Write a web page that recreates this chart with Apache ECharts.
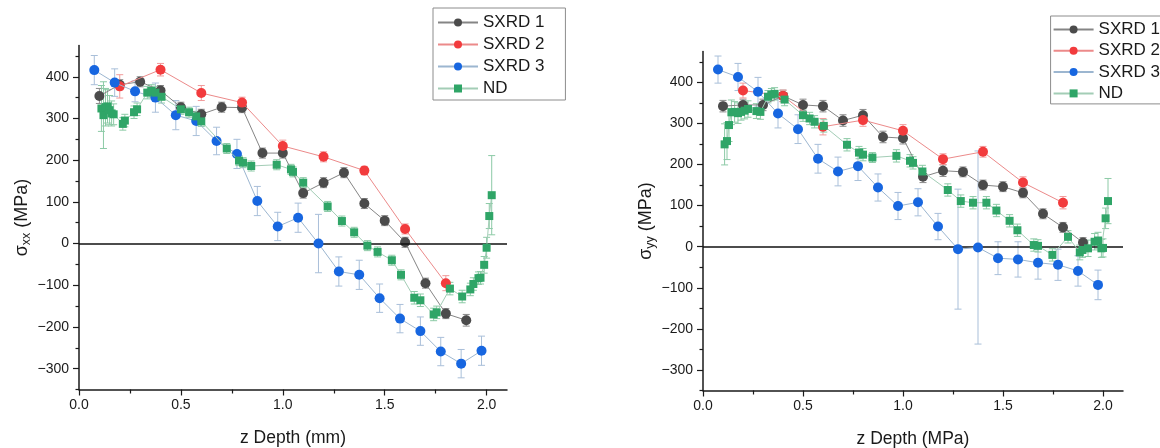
<!DOCTYPE html>
<html><head><meta charset="utf-8">
<script src="https://cdn.jsdelivr.net/npm/echarts@6/dist/echarts.min.js"></script>
<style>html,body{margin:0;padding:0;background:#fff}#c{width:1160px;height:448px}</style>
</head><body><div id="c"></div>
<script>
// ---------- DATA ----------
const seriesNames = ['SXRD 1', 'SXRD 2', 'SXRD 3', 'ND'];

// Left panel: sigma_xx
const sxxS1x = [0.1,0.2,0.3,0.4,0.5,0.6,0.7,0.8,0.9,1.0,1.1,1.2,1.3,1.4,1.5,1.6,1.7,1.8,1.9];
const sxxS1y = [354,381,388,367,327,310,327,326,217,217,121,146,170,96,55,3,-95,-168,-184];
const sxxS1e = [18,12,12,12,12,12,12,12,12,12,12,12,12,12,12,12,12,12,14];

const sxxS2x = [0.2,0.4,0.6,0.8,1.0,1.2,1.4,1.6,1.8];
const sxxS2y = [377,417,361,338,234,208,175,35,-95];
const sxxS2e = [28,15,18,13,14,12,10,12,18];

const sxxS3x = [0.075,0.175,0.275,0.375,0.475,0.575,0.675,0.775,0.875,0.975,1.075,1.175,1.275,1.375,1.475,1.575,1.675,1.775,1.875,1.975];
const sxxS3y = [416,386,365,350,308,294,246,215,102,41,62,0,-67,-75,-131,-180,-210,-259,-288,-257];
const sxxS3e = [35,33,25,35,35,35,33,35,35,34,35,70,35,35,34,34,34,34,34,35];

const sxxNDx = [0.11,0.12,0.13,0.14,0.15,0.16,0.17,0.215,0.225,0.27,0.285,0.335,0.355,0.375,0.405,0.50,0.54,0.575,0.60,0.725,0.785,0.805,0.845,0.97,1.04,1.05,1.10,1.22,1.29,1.35,1.415,1.465,1.535,1.58,1.645,1.675,1.74,1.755,1.82,1.88,1.92,1.935,1.96,1.97,1.988,2.0,2.013,2.025];
const sxxNDy = [324,308,327,329,320,312,310,287,295,315,322,362,366,362,352,322,315,305,293,228,199,194,186,189,178,172,146,89,54,27,-5,-20,-40,-75,-130,-136,-170,-165,-108,-127,-110,-97,-83,-82,-51,-10,66,116];
const sxxNDe = [55,80,45,40,35,30,25,15,15,15,15,15,15,15,15,12,12,12,12,12,12,12,12,12,12,12,12,12,12,12,12,12,12,12,15,15,15,15,15,15,15,15,15,15,20,25,30,95];

// Right panel: sigma_yy
const syyS1x = [0.1,0.2,0.3,0.4,0.5,0.6,0.7,0.8,0.9,1.0,1.1,1.2,1.3,1.4,1.5,1.6,1.7,1.8,1.9];
const syyS1y = [342,345,345,367,345,342,307,320,267,264,170,185,182,150,146,131,80,47,10];
const syyS1e = [14,14,14,14,14,14,14,14,14,14,14,14,12,12,12,12,12,12,12];

const syyS2x = [0.2,0.4,0.6,0.8,1.0,1.2,1.4,1.6,1.8];
const syyS2y = [380,367,292,308,282,213,231,156,107];
const syyS2e = [18,14,20,15,15,13,13,14,15];

const syyS3x = [0.075,0.175,0.275,0.375,0.475,0.575,0.675,0.775,0.875,0.975,1.075,1.175,1.275,1.375,1.475,1.575,1.675,1.775,1.875,1.975];
const syyS3y = [431,413,377,324,286,214,183,196,144,99,108,49,-6,-2,-28,-31,-39,-44,-59,-93];
const syyS3e = [33,33,35,35,35,35,35,35,33,33,33,32,146,235,40,43,40,38,37,36];

const syyNDx = [0.108,0.12,0.13,0.142,0.158,0.175,0.19,0.208,0.225,0.267,0.287,0.325,0.342,0.358,0.408,0.50,0.533,0.558,0.604,0.72,0.78,0.80,0.847,0.967,1.035,1.05,1.097,1.224,1.289,1.35,1.417,1.467,1.533,1.572,1.654,1.675,1.747,1.825,1.884,1.897,1.925,1.958,1.975,1.992,2.0,2.013,2.025];
const syyNDy = [249,257,296,327,328,325,328,331,335,330,328,365,370,372,358,320,312,304,294,248,229,224,217,221,209,204,183,138,111,107,107,88,63,40,4,2,-20,24,-14,-8,-4,12,15,-4,-3,69,111];
const syyNDe = [50,45,40,30,25,25,20,20,20,18,18,15,15,15,15,15,15,15,15,15,15,15,12,15,15,15,15,15,15,15,15,15,15,15,15,15,15,15,18,18,20,20,20,22,22,25,55];

// Tick labels
const xMajorTicks = [0, 0.5, 1.0, 1.5, 2.0];
const xMinorTicks = [0.25, 0.75, 1.25, 1.75];
const yMajorTicks = [-300, -200, -100, 0, 100, 200, 300, 400];
const yMinorTicks = [-350, -250, -150, -50, 50, 150, 250, 350, 450];
const xLabelLeft = 'z Depth (mm)';
const xLabelRight = 'z Depth (MPa)';

// ---------- STYLE ----------
const FONT = 'Liberation Sans, Arial, sans-serif';
const TXT = '#1a1a1a';
const sty = {
  'SXRD 1': {mk:'#4b4b4b', ln:'#858585', eb:'#8a8a8a', sym:'circle', size:10},
  'SXRD 2': {mk:'#f23b3d', ln:'#ec8a8a', eb:'#f19a9a', sym:'circle', size:10},
  'SXRD 3': {mk:'#1766e0', ln:'#9cb6d0', eb:'#a9bfd9', sym:'circle', size:10},
  'ND':     {mk:'#2fa567', ln:'#a3cdb6', eb:'#8ccaa6', sym:'rect',   size:8}
};
const G = [
  {left:79, top:45.5, width:428, height:344},
  {left:703, top:51.5, width:420, height:339}
];

function zip(xs, ys){ return xs.map((x,i)=>[x, ys[i]]); }
function zip3(xs, ys, es){ return xs.map((x,i)=>[x, ys[i], es[i] != null ? es[i] : 15]); }

function errRender(color){
  return function(params, api){
    const x = api.value(0), y = api.value(1), e = api.value(2);
    const t = api.coord([x, y + e]), b = api.coord([x, y - e]);
    const hw = 3.5;
    const st = {stroke: color, lineWidth: 1};
    return {type:'group', children:[
      {type:'line', shape:{x1:t[0], y1:t[1], x2:b[0], y2:b[1]}, style:st},
      {type:'line', shape:{x1:t[0]-hw, y1:t[1], x2:t[0]+hw, y2:t[1]}, style:st},
      {type:'line', shape:{x1:b[0]-hw, y1:b[1], x2:b[0]+hw, y2:b[1]}, style:st}
    ]};
  };
}

const fmtY = v => (v < 0 ? '\u2212' + (-v) : String(v));
const fmtX = v => Number(v).toFixed(1);

function axesFor(gi, xName, yName){
  const g = G[gi];
  const xMajor = {
    gridIndex: gi, type:'value', position:'bottom', min:0, max:2.1,
    axisLine:{show:true, onZero:false, lineStyle:{color:TXT, width:1.5}},
    axisTick:{show:true, length:6, customValues:xMajorTicks, lineStyle:{color:TXT, width:1.2}},
    axisLabel:{show:true, customValues:xMajorTicks, formatter:fmtX, margin:9, fontSize:14, color:TXT, fontFamily:FONT},
    splitLine:{show:false},
    name:xName, nameLocation:'middle', nameGap:40,
    nameTextStyle:{fontSize:17.5, color:TXT, fontFamily:FONT}
  };
  const xMinor = {
    gridIndex: gi, type:'value', position:'top', offset:-g.height, min:0, max:2.1,
    axisLine:{show:false, onZero:false},
    axisTick:{show:true, inside:true, length:4, customValues:xMinorTicks, lineStyle:{color:TXT, width:1.2}},
    axisLabel:{show:false}, splitLine:{show:false}
  };
  const yMajor = {
    gridIndex: gi, type:'value', position:'left', min:-350, max:475,
    axisLine:{show:true, onZero:false, lineStyle:{color:TXT, width:1.5}},
    axisTick:{show:true, length:6, customValues:yMajorTicks, lineStyle:{color:TXT, width:1.2}},
    axisLabel:{show:true, customValues:yMajorTicks, formatter:fmtY, margin:10, fontSize:14, color:TXT, fontFamily:FONT},
    splitLine:{show:false},
    name:yName, nameLocation:'middle', nameGap:46, nameRotate:90,
    nameTextStyle:{fontSize:18, color:TXT, fontFamily:FONT,
      rich:{g:{fontSize:18, color:TXT, fontFamily:FONT},
            s:{fontSize:12.5, color:TXT, fontFamily:FONT, padding:[9,0,0,0]}}}
  };
  const yMinor = {
    gridIndex: gi, type:'value', position:'right', offset:-g.width, min:-350, max:475,
    axisLine:{show:false, onZero:false},
    axisTick:{show:true, inside:true, length:3.5, customValues:yMinorTicks, lineStyle:{color:TXT, width:1.2}},
    axisLabel:{show:false}, splitLine:{show:false}
  };
  return {x:[xMajor, xMinor], y:[yMajor, yMinor]};
}

const ax0 = axesFor(0, xLabelLeft, '{g|σ}{s|xx}{g| (MPa)}');
const ax1 = axesFor(1, xLabelRight, '{g|σ}{s|yy}{g| (MPa)}');

const panels = [
  {ax:0, data:{
    'SXRD 1':[sxxS1x, sxxS1y, sxxS1e], 'SXRD 2':[sxxS2x, sxxS2y, sxxS2e],
    'SXRD 3':[sxxS3x, sxxS3y, sxxS3e], 'ND':[sxxNDx, sxxNDy, sxxNDe]}},
  {ax:2, data:{
    'SXRD 1':[syyS1x, syyS1y, syyS1e], 'SXRD 2':[syyS2x, syyS2y, syyS2e],
    'SXRD 3':[syyS3x, syyS3y, syyS3e], 'ND':[syyNDx, syyNDy, syyNDe]}}
];

const series = [];
panels.forEach((p, pi) => {
  seriesNames.forEach(n => {
    const d = p.data[n];
    series.push({
      type:'custom', name:'err_' + n + '_' + pi, xAxisIndex:p.ax, yAxisIndex:p.ax,
      data: zip3(d[0], d[1], d[2]), renderItem: errRender(sty[n].eb),
      encode:{x:0, y:1}, z:1, silent:true, clip:false
    });
  });
  series.push({
    type:'line', name:'zero_' + pi, xAxisIndex:p.ax, yAxisIndex:p.ax, data:[], z:2,
    markLine:{silent:true, symbol:['none','none'], label:{show:false},
      lineStyle:{color:'#111', width:1.6, type:'solid'}, data:[{yAxis:0}], animation:false}
  });
  seriesNames.forEach((n, k) => {
    const d = p.data[n];
    series.push({
      type:'line', name:n, xAxisIndex:p.ax, yAxisIndex:p.ax,
      data: zip(d[0], d[1]), symbol: sty[n].sym, symbolSize: sty[n].size, showSymbol:true,
      itemStyle:{color: sty[n].mk}, lineStyle:{color: sty[n].ln, width:1},
      z: 3 + k, animation:false
    });
  });
});

const legendBase = {
  data: seriesNames, orient:'vertical', itemWidth:40, itemHeight:10, itemGap:5,
  backgroundColor:'#fff', borderColor:'#8c8c8c', borderWidth:1, borderRadius:0,
  textStyle:{fontSize:17, lineHeight:17, color:TXT, fontFamily:FONT},
  selectedMode:false
};

const option = {
  backgroundColor:'#ffffff',
  animation:false,
  grid: G.map(g => Object.assign({containLabel:false, outerBoundsMode:'none'}, g)),
  xAxis: [...ax0.x, ...ax1.x],
  yAxis: [...ax0.y, ...ax1.y],
  legend: [
    Object.assign({}, legendBase, {left:433, top:8, padding:[6,21,3,4]}),
    Object.assign({}, legendBase, {right:-26, top:16, itemGap:4.3, padding:[5,26,2,2]})
  ],
  series
};

const chart = echarts.init(document.getElementById('c'), null, {renderer:'canvas'});
chart.setOption(option);
</script></body></html>
